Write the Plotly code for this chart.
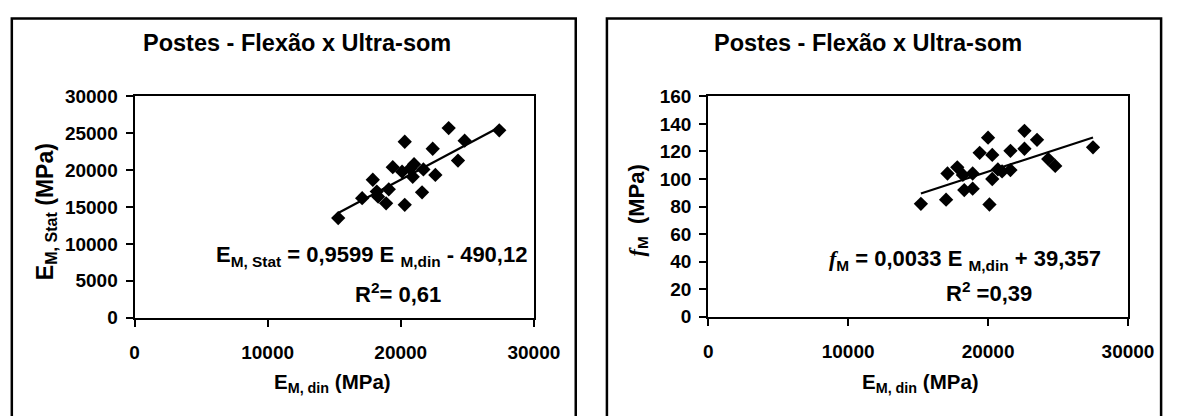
import plotly.graph_objects as go

# Static vs. dynamic modulus (MPa)
e_din_stat = [15300, 17100, 17900, 18200, 18300, 18900, 19100, 19400, 20100, 20300, 20300,
              20700, 20900, 21000, 21700, 21600, 22400, 22600, 23600, 24300, 24800, 27400]
e_stat = [13500, 16200, 18700, 17100, 16400, 15500, 17400, 20400, 19800, 23850, 15300,
          20200, 19100, 20800, 20100, 17000, 22900, 19350, 25700, 21300, 24000, 25400]

# Bending strength vs. dynamic modulus
e_din_flex = [15200, 17000, 17100, 17800, 18200, 18300, 18900, 18900, 19400, 20000, 20300, 20300,
              20100, 20700, 21000, 21600, 21600, 22600, 22600, 23500, 24300, 24800, 27500]
f_m = [82, 85, 104, 108.5, 103, 92, 93, 104, 119, 130, 117.5, 100,
       81.5, 107, 105.5, 120.5, 106.5, 135, 122, 128.5, 114.5, 109.5, 123]

# Linear fits (coefficients as printed on the chart)
fit_stat = (0.9599, -490.12)
fit_flex = (0.0033, 39.357)

W, H = 1191, 416
FONT = "Liberation Sans, Arial, sans-serif"
SERIF = "Liberation Serif, Times New Roman, serif"


def px(x):
    return x / W


def py(y):
    return 1 - y / H


fig = go.Figure()

for ax, xs, ys, (a, b) in [("", e_din_stat, e_stat, fit_stat), ("2", e_din_flex, f_m, fit_flex)]:
    fig.add_trace(go.Scatter(
        x=xs, y=ys, mode="markers",
        marker=dict(symbol="diamond", size=11, color="black"),
        xaxis="x" + ax, yaxis="y" + ax, showlegend=False))
    x0, x1 = min(xs), max(xs)
    fig.add_trace(go.Scatter(
        x=[x0, x1], y=[a * x0 + b, a * x1 + b], mode="lines",
        line=dict(color="black", width=2.2),
        xaxis="x" + ax, yaxis="y" + ax, showlegend=False))

axis_common = dict(
    showline=True, linecolor="black", linewidth=2, mirror=True,
    ticks="outside", ticklen=7, tickwidth=2, tickcolor="black",
    showgrid=False, zeroline=False, tickformat="d",
    tickfont=dict(family=FONT, size=19, color="black", weight="bold"),
)
x_common = dict(axis_common, ticklabelstandoff=10)
y_common = dict(axis_common, ticklabelstandoff=4)

fig.update_layout(
    width=W, height=H,
    margin=dict(l=0, r=0, t=0, b=0),
    paper_bgcolor="white", plot_bgcolor="white",
    xaxis=dict(domain=[px(133), px(543)], range=[0, 30000], dtick=10000, anchor="y", **x_common),
    yaxis=dict(domain=[py(324), py(91)], range=[0, 30000], dtick=5000, anchor="x", **y_common),
    xaxis2=dict(domain=[px(722), px(1153)], range=[0, 30000], dtick=10000, anchor="y2", **x_common),
    yaxis2=dict(domain=[py(323), py(91)], range=[0, 160], dtick=20, anchor="x2", **y_common),
)

# Outer chart frames
for x0, x1 in [(7, 586), (618, 1187)]:
    fig.add_shape(type="rect", xref="paper", yref="paper",
                  x0=px(x0), x1=px(x1), y0=-0.1, y1=py(9),
                  line=dict(color="black", width=2.5), fillcolor="rgba(0,0,0,0)")


def label(text, x, y, size, angle=0):
    fig.add_annotation(text=text, xref="paper", yref="paper", x=px(x), y=py(y),
                       xanchor="center", yanchor="middle", showarrow=False, textangle=angle,
                       font=dict(family=FONT, size=size, color="black", weight="bold"))


F_M = f'<span style="font-family:{SERIF}"><i>f</i></span><sub>M</sub>'

TITLE = "Postes - Flexão x Ultra-som"
label(TITLE, 300, 35, 23.5)
label(TITLE, 886, 35, 23.5)

label("E<sub>M, din</sub> (MPa)", 336, 393, 20.5)
label("E<sub>M, din</sub> (MPa)", 940, 393, 20.5)

label("E<sub>M, Stat</sub> (MPa)", 42, 212, 23, -90)
label(F_M + "  (MPa)", 650, 211, 22, -90)

label("E<sub>M, Stat</sub> = 0,9599 E <sub>M,din</sub> - 490,12", 376, 259, 22)
label("R<sup>2</sup>= 0,61", 404, 298, 22)

label(F_M + " = 0,0033 E <sub>M,din</sub> + 39,357", 986, 263, 22)
label("R<sup>2</sup> =0,39", 1010, 297, 22)

fig.write_html("out.html")
